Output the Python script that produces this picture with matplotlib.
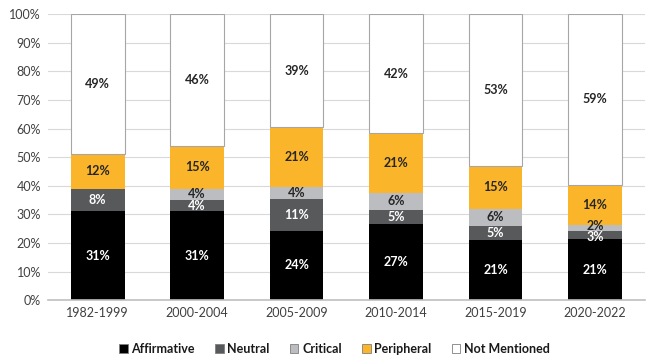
import matplotlib.pyplot as plt
import numpy as np

periods = ["1982-1999", "2000-2004", "2005-2009", "2010-2014", "2015-2019", "2020-2022"]
affirmative = [31, 31, 24, 27, 21, 21]
neutral = [8, 4, 11, 5, 5, 3]
critical = [0, 4, 4, 6, 6, 2]
peripheral = [12, 15, 21, 21, 15, 14]
not_mentioned = [49, 46, 39, 42, 53, 59]

series = [
    ("Affirmative", affirmative, "#000000", "white"),
    ("Neutral", neutral, "#58595b", "white"),
    ("Critical", critical, "#bcbdc0", "#262626"),
    ("Peripheral", peripheral, "#fbb52a", "#262626"),
    ("Not Mentioned", not_mentioned, "#ffffff", "#262626"),
]
# tiny segments: push labels apart a little so they don't sit on top of each other
nudge = {"Neutral": -0.8, "Critical": 0.8}

plt.rcParams['font.family'] = ['Lato', 'DejaVu Sans']

fig, ax = plt.subplots(figsize=(6.48, 3.56), dpi=100)
fig.subplots_adjust(left=0.074, right=0.995, top=0.96, bottom=0.157)

# 100% stacked: each column is scaled to its own total
totals = np.sum([np.array(s[1], dtype=float) for s in series], axis=0)

x = np.arange(len(periods))
bottom = np.zeros(len(periods))
for name, vals, color, txt in series:
    vals = np.array(vals, dtype=float)
    share = vals / totals * 100
    edge = "#a6a6a6" if name == "Not Mentioned" else "none"
    ax.bar(x, share, 0.54, bottom=bottom, color=color, edgecolor=edge,
           linewidth=0.8, label=name, zorder=2)
    for xi, b, h, v in zip(x, bottom, share, vals):
        if v > 0:
            y = b + h / 2 + (nudge.get(name, 0) if v < 4 else 0)
            ax.text(xi, y, f"{int(v)}%", ha="center", va="center",
                    fontsize=9, fontweight="bold", color=txt, zorder=3)
    bottom += share

ax.set_xlim(-0.5, len(periods) - 0.5)
ax.set_ylim(0, 100)
ax.set_yticks(range(0, 101, 10))
ax.set_yticklabels([f"{v}%" for v in range(0, 101, 10)])
ax.set_xticks(x)
ax.set_xticklabels(periods)
ax.tick_params(axis="both", length=0, labelsize=9, colors="#404040", pad=5)
ax.grid(axis="y", color="#d9d9d9", linewidth=0.8, zorder=0)
for s in ["top", "right", "left"]:
    ax.spines[s].set_visible(False)
ax.spines["bottom"].set_color("#bfbfbf")
ax.spines["bottom"].set_linewidth(1.2)

leg = ax.legend(loc="upper center", bbox_to_anchor=(0.48, -0.11), ncol=5,
                frameon=False, fontsize=9, handlelength=0.7, handleheight=0.7,
                handletextpad=0.3, columnspacing=1.6)
for t in leg.get_texts():
    t.set_fontweight("bold")
    t.set_color("#1a1a1a")
for h in leg.legend_handles:
    h.set_edgecolor("#7f7f7f")
    h.set_linewidth(0.6)

fig.savefig("out.png", dpi=100)
